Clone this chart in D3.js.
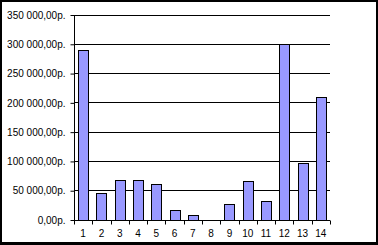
<!DOCTYPE html>
<html><head><meta charset="utf-8">
<script src="https://cdn.jsdelivr.net/npm/d3@7"></script>
<style>html,body{margin:0;padding:0;background:#fff;}svg{display:block;}</style>
</head><body>
<svg id="c" width="378" height="245"></svg>
<script>
const categories = ["1","2","3","4","5","6","7","8","9","10","11","12","13","14"];
const values = [290000, 46000, 67000, 67000, 60000, 16000, 7000, 0, 26000, 65000, 31000, 300000, 96000, 210000];
const yTicks = [0, 50000, 100000, 150000, 200000, 250000, 300000, 350000];

(function(){
const svg = d3.select("#c");
const W = 378, H = 245;
svg.append("rect").attr("x",0).attr("y",0).attr("width",W).attr("height",H).attr("fill","#000");
svg.append("rect").attr("x",2).attr("y",2).attr("width",374).attr("height",240).attr("fill","#fff");

const pLeft = 74, pRight = 330, pTop = 14.5, pBottom = 219.5;
const x = d3.scaleBand().domain(categories).range([pLeft, pRight]).paddingInner(0.45).paddingOuter(0.225);
const y = d3.scaleLinear().domain([0, 350000]).range([pBottom, pTop]);

const fmt = v => {
  const s = d3.format(",.2f")(v).replace(/,/g, " ").replace(".", ",");
  return s + "р.";
};

// gridlines
svg.append("g").selectAll("line").data(yTicks.filter(d => d > 0)).join("line")
  .attr("x1", pLeft).attr("x2", pRight)
  .attr("y1", d => Math.round(y(d)) + 0.5).attr("y2", d => Math.round(y(d)) + 0.5)
  .attr("stroke", "#000").attr("stroke-width", 1);

// bars
svg.append("g").selectAll("rect").data(values).join("rect")
  .attr("x", (d,i) => Math.round(x(categories[i])) + 0.5)
  .attr("y", d => Math.round(y(d)) + 0.5)
  .attr("width", Math.round(x.bandwidth()))
  .attr("height", d => Math.max(0, Math.round(y(0)) - Math.round(y(d))))
  .attr("fill", d => d > 0 ? "#9999FF" : "none")
  .attr("stroke", d => d > 0 ? "#000" : "none")
  .attr("stroke-width", 1);

// y axis
const yAxis = d3.axisLeft(y).tickValues(yTicks).tickSize(4).tickPadding(5).tickFormat(fmt);
const gy = svg.append("g").attr("transform", `translate(${pLeft + 0.5},0.5)`).call(yAxis);
gy.select(".domain").remove();
gy.append("line").attr("x1",0).attr("x2",0).attr("y1",Math.round(pTop)).attr("y2",Math.round(pBottom)).attr("stroke","#000");
gy.selectAll(".tick line").attr("stroke","#000");
gy.selectAll("text").attr("font-family","Liberation Sans, Arial, sans-serif").attr("font-size","10px").attr("fill","#000");

// x axis
const boundaries = categories.map((c,i) => pLeft + i * x.step()).concat([pRight]);
const gx = svg.append("g");
gx.append("line").attr("x1", pLeft).attr("x2", pRight).attr("y1", Math.round(pBottom)+0.5).attr("y2", Math.round(pBottom)+0.5).attr("stroke","#000");
gx.selectAll("line.t").data(boundaries).join("line").attr("class","t")
  .attr("x1", d => Math.round(d)+0.5).attr("x2", d => Math.round(d)+0.5)
  .attr("y1", Math.round(pBottom)+0.5).attr("y2", Math.round(pBottom)+4.5).attr("stroke","#000");
gx.selectAll("text").data(categories).join("text")
  .attr("x", d => x(d) + x.bandwidth()/2)
  .attr("y", 236.5)
  .attr("text-anchor","middle")
  .attr("font-family","Liberation Sans, Arial, sans-serif").attr("font-size","10px").attr("fill","#000")
  .text(d => d);
})();
</script>
</body></html>
